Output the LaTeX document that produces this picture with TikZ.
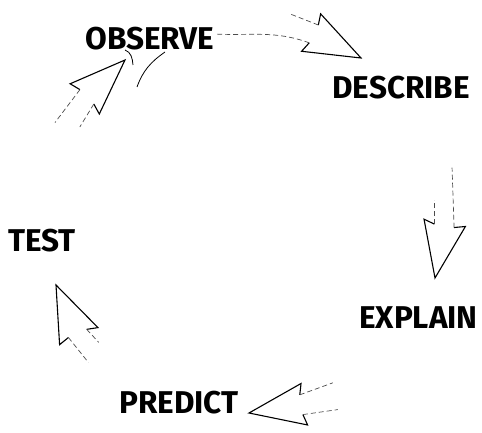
\documentclass[tikz,border=0pt]{standalone}
\usepackage{fontspec}
\setmainfont{Fira Sans}

\begin{document}
\begin{tikzpicture}[
    x=1pt, y=1pt,
    stage/.style={
        inner sep=0pt,
        font=\fontsize{31.5}{31.5}\selectfont\bfseries
    },
    headline/.style={
        line width=1.1pt,
        line join=miter
    },
    tail/.style={
        draw=black!70,
        line width=0.7pt,
        dash pattern=on 5pt off 3pt
    },
    stroke/.style={
        line width=0.8pt
    },
    fathead/.pic={
        \draw[headline] (-53,10) -- (-56,21) -- (0,0) -- (-56,-21) -- (-53,-10);
        \coordinate (-l) at (-53,10);
        \coordinate (-r) at (-53,-10);
    }
]
\useasboundingbox (0,0) rectangle (482,433);

\node[stage] (observe) at (150,394) {OBSERVE};
\node[stage] (describe) at (401,345) {DESCRIBE};
\node[stage, anchor=east] (explain) at (478,115) {EXPLAIN};
\node[stage] (predict) at (179,30) {PREDICT};
\node[stage] (test) at (42,192) {TEST};

% observe -> describe
\pic[rotate=-27] (h1) at (361,375) {fathead};
\draw[tail] (h1-l) -- ++(-28,11);
\draw[tail] (h1-r) to[out=160,in=-3] ([yshift=5pt]observe.east);

% describe -> explain
\pic[rotate=-100] (h2) at (435,155) {fathead};
\draw[tail] (h2-l) -- ++(-2,60);
\draw[tail] (h2-r) -- ++(0,24);

% explain -> predict
\pic[rotate=189] (h3) at (249,20) {fathead};
\draw[tail] (h3-l) -- ++(35,5);
\draw[tail] (h3-r) -- ++(33,12);

% predict -> test
\pic[rotate=114] (h4) at (56,148) {fathead};
\draw[tail] (h4-l) -- ++(20,-25);
\draw[tail] (h4-r) -- ++(12,-13);

% test -> observe
\pic[rotate=44] (h5) at (125,373) {fathead};
\draw[tail] (h5-l) -- ++(-25,-33);
\draw[tail] (h5-r) -- ++(-14,-23);
\draw[stroke] (125,383) to[out=-20,in=95] (133,368);
\draw[stroke] (137,346) to[out=70,in=215] (165,381);

\end{tikzpicture}
\end{document}
